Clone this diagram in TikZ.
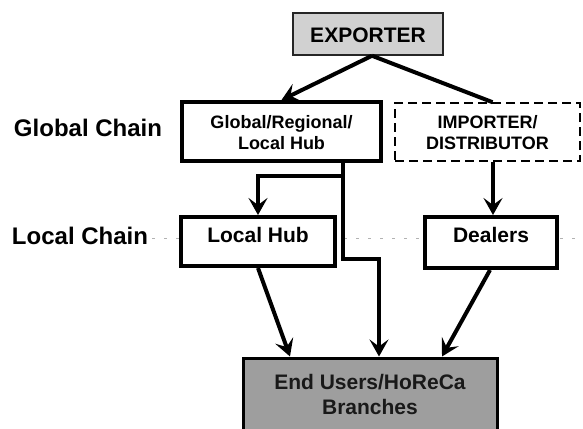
\documentclass[tikz,border=0pt]{standalone}
\usepackage{fontspec}
\setmainfont{Liberation Sans}
\usetikzlibrary{arrows.meta,calc}
\tikzset{
  x=1pt,y=-1pt,
  thickbox/.style={draw=black,line width=4pt,fill=white,inner sep=0pt},
  dashbox/.style={draw=black,line width=1.6pt,dashed,dash pattern=on 9pt off 5pt,fill=white,inner sep=0pt},
  expbox/.style={draw=black!85,line width=1.5pt,fill=black!18,inner sep=0pt},
  endbox/.style={draw=black,line width=3pt,fill=black!38,inner sep=0pt},
  chainlbl/.style={font=\fontsize{24}{26}\selectfont\bfseries},
  boxtxt/.style={font=\fontsize{18}{21}\selectfont\bfseries,align=center,inner sep=0pt},
  bigtxt/.style={font=\fontsize{21}{25}\selectfont\bfseries,align=center,inner sep=0pt},
  conn/.style={line width=4pt},
  arr/.style={line width=4pt,-{Stealth[length=17pt,width=19pt,inset=7pt]}},
  guide/.style={draw=black!30,line width=0.8pt,dash pattern=on 3pt off 9pt}
}
\begin{document}
\begin{tikzpicture}
\useasboundingbox[fill=white] (0,0) rectangle (583,428);
% guide line
\coordinate (g1) at (152,238);
\coordinate (g2) at (583,238);
\draw[guide] (g1) -- (g2);
% boxes
\node[expbox,minimum width=150pt,minimum height=42pt] (exp) at (368,34) {};
\node[bigtxt] (expt) at (368,35) {EXPORTER};
\node[thickbox,minimum width=199pt,minimum height=59pt] (hub) at (281.5,131.5) {};
\node[boxtxt] (hubt) at (281.5,133) {Global/Regional/\\Local Hub};
\node[dashbox,minimum width=185pt,minimum height=58pt] (imp) at (487.5,132) {};
\node[boxtxt] (impt) at (487.5,133) {IMPORTER/\\DISTRIBUTOR};
\node[thickbox,minimum width=154pt,minimum height=49pt] (lhub) at (258,241.5) {};
\node[bigtxt] (lhubt) at (258,235) {Local Hub};
\node[thickbox,minimum width=132pt,minimum height=51pt] (deal) at (491,242.5) {};
\node[bigtxt] (dealt) at (491,235) {Dealers};
\node[endbox,minimum width=254pt,minimum height=72pt] (end) at (370,394) {};
\node[bigtxt,text=black!90] (endt) at (370,394) {End Users/HoReCa\\Branches};
% chain labels
\node[chainlbl] (gc) at (88,128) {Global Chain};
\node[chainlbl] (lc) at (80,236) {Local Chain};
% connectors
\draw[arr] ([xshift=4pt]exp.south) -- (hub.north);
\draw[conn] ([xshift=4pt]exp.south) -- ([xshift=5pt]imp.north);
\draw[arr] ([xshift=61.5pt]hub.south) |- ([yshift=39pt]lhub.north) -- (lhub.north);
\draw[arr] ([xshift=61.5pt]hub.south) -- ++(0,96) -| ([xshift=9pt]end.north);
\draw[arr] ([xshift=5.5pt]imp.south) -- ([xshift=2pt]deal.north);
\draw[arr] (lhub.south) -- ([xshift=-80pt]end.north);
\draw[arr] ([xshift=-1pt]deal.south) -- ([xshift=72pt]end.north);
\end{tikzpicture}
\end{document}
